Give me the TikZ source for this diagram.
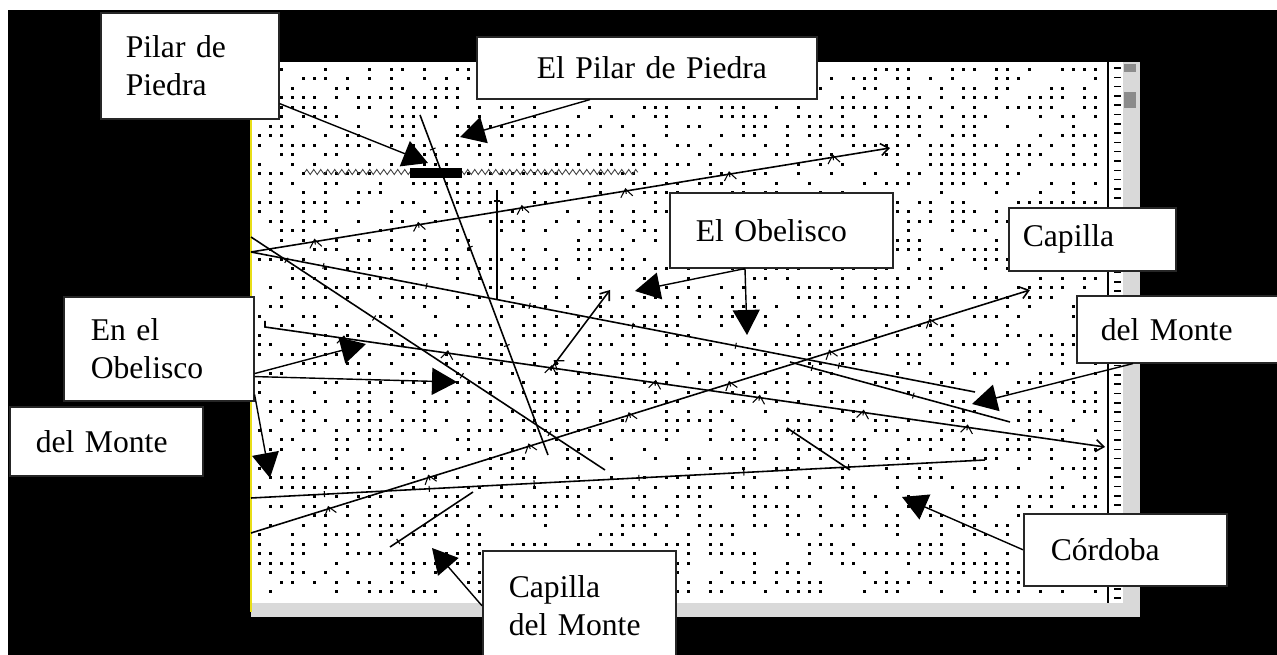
\documentclass[tikz,border=0pt]{standalone}
\usepackage{fontspec}
\setmainfont{Liberation Serif}
\usetikzlibrary{arrows.meta,decorations.pathmorphing,decorations.markings}

\begin{document}
\begin{tikzpicture}[
    x=0.2mm, y=-0.2mm,
    lbl/.style={
        rectangle, draw=black!85, line width=0.9pt, fill=white,
        anchor=north west, inner sep=0pt, align=left,
        font=\fontsize{18}{21.5}\selectfont
    },
    arr/.style={-{Triangle[length=5mm,width=5.4mm]}, line width=0.8pt},
    road/.style={
        line width=0.9pt, postaction={decorate},
        decoration={markings, mark=between positions 0.1 and 0.95 step 21mm
            with {\draw[line width=0.6pt] (0,-0.6mm) -- (0,0.6mm);}}
    },
    roadend/.style={road, -{Straight Barb[length=1.6mm,width=2.4mm]}}
]
    \useasboundingbox (0,0) rectangle (1277,655);
    \fill[white] (0,0) rectangle (1277,655);
    \fill[black] (8,10) rectangle (1277,655);
    \fill[white] (251,62) rectangle (1140,617);

    % scroll bars
    \fill[black!15] (1123,62) rectangle (1140,617);
    \fill[black!15] (251,603) rectangle (1123,617);
    \fill[black!45] (1124,64) rectangle (1136,72);
    \fill[black!45] (1124,92) rectangle (1136,108);
    \draw[line width=0.6pt] (1108,62) -- (1108,603);
    \foreach \j in {0,...,57}
        \draw[line width=0.9pt] (1114,68+9.3*\j) -- ++(7,0);
    \draw[yellow!90!black, line width=1pt] (251,100) -- (251,612);

    % grid dots
    \pgfmathsetseed{12}
    \foreach \i in {0,...,76}{
        \foreach \j in {0,...,55}{
            \pgfmathtruncatemacro\keep{rnd<0.5}
            \ifnum\keep=1 \fill (258+11*\i,68+9.5*\j) rectangle ++(2.8,2.8); \fi
        }
    }

    \draw[black!75, line width=0.5pt, decorate,
        decoration={zigzag, segment length=1.4mm, amplitude=0.5mm}] (305,172) -- (638,172);
    \fill (410,168) rectangle (462,178);

    \draw[roadend] (251,252) -- (890,148);
    \draw[road] (251,237) -- (605,470);
    \draw[road] (420,115) -- (548,455);
    \draw[road] (497,190) -- (497,300);
    \draw[road] (251,252) -- (975,392);
    \draw[road] (790,362) -- (1010,422);
    \draw[roadend] (265,321) -- (265,327) -- (1105,447);
    \draw[roadend] (251,533) -- (1030,290);
    \draw[road] (251,498) -- (985,460);
    \draw[roadend] (550,370) -- (610,290);
    \draw[road] (390,547) -- (473,492);
    \draw[road] (787,428) -- (850,470);

    \node[lbl, minimum width=35.6mm, minimum height=21.2mm, text width=25.6mm] (pilar) at (100,12) {Pilar de\\Piedra};
    \node[lbl, minimum width=68mm, minimum height=12.4mm, text width=58mm] (elpilar) at (476,36) {\hspace*{7mm}El Pilar de Piedra};
    \node[lbl, minimum width=44.6mm, minimum height=15mm, text width=34.2mm] (obelisco) at (669,192) {El Obelisco};
    \node[lbl, minimum width=33.4mm, minimum height=12.6mm, text width=27.8mm] (capilla) at (1008,207) {Capilla};
    \node[lbl, minimum width=41mm, minimum height=13.4mm, text width=31.4mm] (montedr) at (1076,295) {del Monte};
    \node[lbl, minimum width=38mm, minimum height=20.8mm, text width=27.2mm] (enobelisco) at (63,296) {En el\\Obelisco};
    \node[lbl, minimum width=38.6mm, minimum height=13.8mm, text width=28.2mm] (monteiz) at (9,406) {del Monte};
    \node[lbl, minimum width=38.6mm, minimum height=22mm, text width=28.2mm] (capmonte) at (482,550) {Capilla\\del Monte};
    \node[lbl, minimum width=40.6mm, minimum height=14.4mm, text width=29.8mm] (cordoba) at (1023,513) {Córdoba};

    \coordinate (tPil) at (428,163);
    \coordinate (tElPil) at (460,137);
    \coordinate (tObA) at (635,291);
    \coordinate (tObB) at (747,335);
    \coordinate (tMonte) at (972,404);
    \coordinate (tCord) at (902,497);
    \coordinate (tCapM) at (432,548);
    \coordinate (tEnA) at (366,344);
    \coordinate (tEnB) at (457,382);
    \coordinate (tEnC) at (270,478);

    \draw[arr] ([yshift=3.2mm]pilar.south east) -- (tPil);
    \draw[arr] ([xshift=22.8mm]elpilar.south west) -- (tElPil);
    \draw[arr] ([xshift=15.2mm]obelisco.south west) -- (tObA);
    \draw[arr] ([xshift=15.2mm]obelisco.south west) -- (tObB);
    \draw[arr] ([xshift=11.4mm]montedr.south west) -- (tMonte);
    \draw[arr] (cordoba.west) -- (tCord);
    \draw[arr] (capmonte.west) -- (tCapM);
    \draw[arr] ([yshift=5.6mm]enobelisco.south east) -- (tEnA);
    \draw[arr] ([yshift=5mm]enobelisco.south east) -- (tEnB);
    \draw[arr] ([yshift=1.4mm]enobelisco.south east) -- (tEnC);
\end{tikzpicture}
\end{document}
